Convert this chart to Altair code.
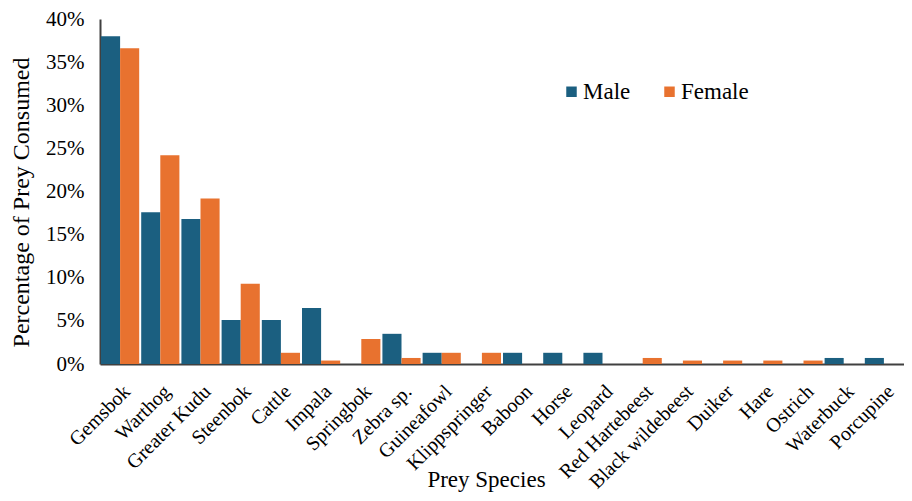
import altair as alt
import pandas as pd

species = ["Gemsbok", "Warthog", "Greater Kudu", "Steenbok", "Cattle", "Impala",
           "Springbok", "Zebra sp.", "Guineafowl", "Klippspringer", "Baboon", "Horse",
           "Leopard", "Red Hartebeest", "Black wildebeest", "Duiker", "Hare", "Ostrich",
           "Waterbuck", "Porcupine"]
male = [38.0, 17.6, 16.8, 5.1, 5.1, 6.5, 0.0, 3.5, 1.3, 0.0, 1.3, 1.3,
        1.3, 0.0, 0.0, 0.0, 0.0, 0.0, 0.7, 0.7]
female = [36.6, 24.2, 19.2, 9.3, 1.3, 0.4, 2.9, 0.7, 1.3, 1.3, 0.0, 0.0,
          0.0, 0.7, 0.4, 0.4, 0.4, 0.4, 0.0, 0.0]
sexes = ["Male", "Female"]
colors = ["#1b5f80", "#e8722f"]
y_ticks = [0, 0.05, 0.10, 0.15, 0.20, 0.25, 0.30, 0.35, 0.40]

rows = []
for i, s in enumerate(species):
    rows.append({"Species": s, "Sex": "Male", "Value": male[i] / 100})
    rows.append({"Species": s, "Sex": "Female", "Value": female[i] / 100})
df = pd.DataFrame(rows)

FONT = "Liberation Serif"

chart = alt.Chart(df).mark_bar().encode(
    x=alt.X("Species:N", sort=species,
            scale=alt.Scale(paddingInner=0.05, paddingOuter=0.025),
            axis=alt.Axis(title="Prey Species", labelAngle=-45, labelAlign="right",
                          labelBaseline="top", labelPadding=17, ticks=False,
                          domainColor="#404040", domainWidth=2,
                          labelFont=FONT, labelFontSize=20, labelColor="#000000",
                          titleFont=FONT, titleFontSize=23, titleFontWeight="normal",
                          titleColor="#000000", titleY=122, titleX=386,
                          titleAlign="center", titleBaseline="alphabetic")),
    xOffset=alt.XOffset("Sex:N", sort=sexes, scale=alt.Scale(paddingInner=0, paddingOuter=0)),
    y=alt.Y("Value:Q", scale=alt.Scale(domain=[0, 0.4], nice=False),
            axis=alt.Axis(title="Percentage of Prey Consumed", values=y_ticks, format=".0%",
                          grid=False, ticks=False, domainColor="#404040", domainWidth=2,
                          labelPadding=16, labelFont=FONT, labelFontSize=21,
                          labelColor="#000000", titleFont=FONT, titleFontSize=24,
                          titleFontWeight="normal", titleColor="#000000",
                          titleX=-79, titleY=183, titleAngle=-90, titleAlign="center",
                          titleBaseline="middle")),
    color=alt.Color("Sex:N", sort=sexes, scale=alt.Scale(domain=sexes, range=colors),
                    legend=alt.Legend(title=None, orient="none", legendX=460, legendY=61,
                                      direction="horizontal", symbolType="square",
                                      symbolSize=110, symbolStrokeWidth=0,
                                      labelFont=FONT, labelFontSize=23, labelColor="#000000",
                                      columnPadding=27, labelOffset=0)),
).properties(
    width=804, height=345,
    autosize=alt.AutoSizeParams(type="none"),
    padding={"left": 92, "top": 11, "right": 0, "bottom": 129},
).configure_view(stroke=None)

chart.save("out.html", embed_options={"renderer": "svg", "actions": False})
